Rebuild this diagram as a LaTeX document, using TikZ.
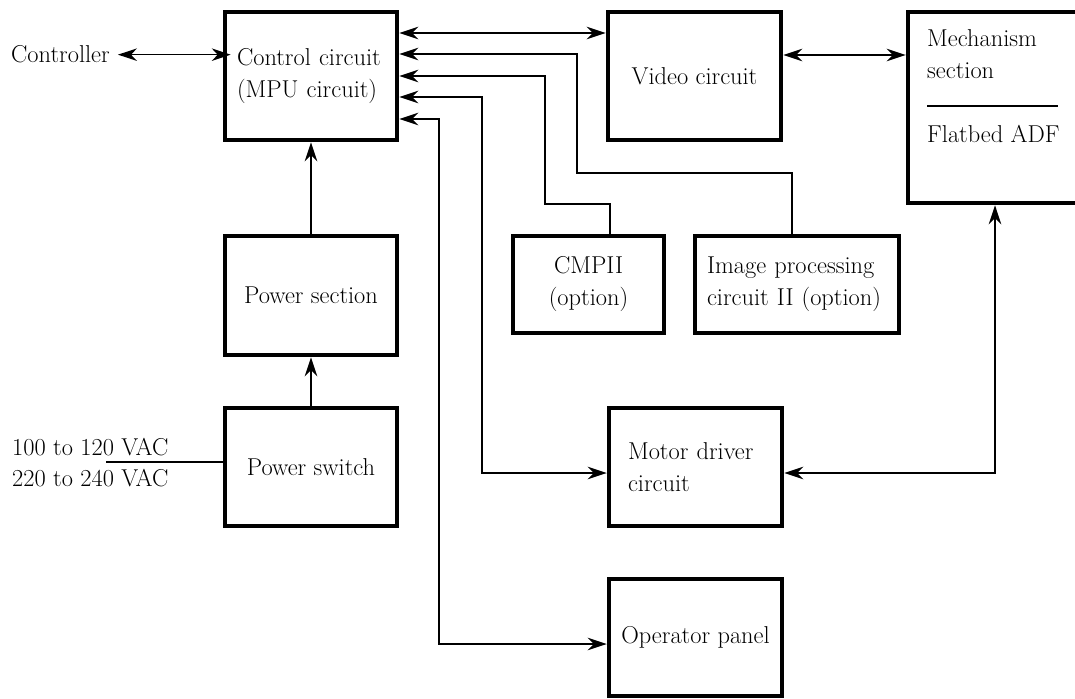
\documentclass[tikz,border=0pt]{standalone}
\usepackage{fontspec}
\usetikzlibrary{arrows.meta}
\begin{document}
\begin{tikzpicture}[x=1pt,y=-1pt,
  every node/.style={font=\fontsize{24.4}{32}\selectfont},
  blk/.style={draw,line width=4.5pt,rectangle,inner sep=0pt},
  lbl/.style={anchor=base west,inner sep=0pt},
  conn/.style={line width=1.4pt},
  >={Stealth[length=19pt,width=12.5pt,inset=6pt]}]
\useasboundingbox (0,0) rectangle (1075,698);
% blocks
\node[blk,minimum width=172pt,minimum height=128pt,text width=148pt,align=left] (ctrl) at (311,76) {Control circuit\\(MPU circuit)};
\node[blk,minimum width=172pt,minimum height=119pt] (power) at (311,295.5) {Power section};
\node[blk,minimum width=172pt,minimum height=118pt] (switch) at (311,467) {Power switch};
\node[blk,minimum width=173pt,minimum height=128pt] (video) at (694.5,76) {Video circuit};
\node[blk,minimum width=170pt,minimum height=191pt] (mech) at (993,107.5) {};
\node[blk,minimum width=151pt,minimum height=97pt,align=center] (cmp) at (588.5,284.5) {CMPII\\(option)};
\node[blk,minimum width=204pt,minimum height=97pt,text width=180pt,align=left] (img) at (797,284.5) {Image processing\\circuit II (option)};
\node[blk,minimum width=173pt,minimum height=118pt,text width=135pt,align=left] (motor) at (695.5,467) {Motor driver\\circuit};
\node[blk,minimum width=173pt,minimum height=117pt] (oper) at (695.5,637.5) {Operator panel};
% texts
\node[lbl] (mecha) at (927,47) {Mechanism};
\node[lbl] (mechb) at (927,79) {section};
\node[lbl] (mechc) at (927,142) {Flatbed ADF};
\coordinate (sepL) at (927,106);
\coordinate (sepR) at (1058,106);
\draw[conn] (sepL) -- (sepR);
\node[lbl] (contr) at (11,63) {Controller};
\node[lbl] (vac1) at (12,455) {100 to 120 VAC};
\node[lbl] (vac2) at (12,486) {220 to 240 VAC};
% helper coordinates
\coordinate (c2) at (500,33);
\coordinate (c3a) at (792,173);
\coordinate (c3b) at (577,173);
\coordinate (c3c) at (577,54);
\coordinate (c4a) at (610,204);
\coordinate (c4b) at (545,204);
\coordinate (c4c) at (545,76);
\coordinate (c5a) at (482,97);
\coordinate (c5b) at (482,473);
\coordinate (c6a) at (439,119);
\coordinate (c6b) at (439,644);
\coordinate (c10) at (845,55);
\coordinate (c11) at (995,473);
\coordinate (vacend) at (106,462);
% connectors
\draw[conn,<->] ([xshift=8pt]contr.east) -- ([xshift=8pt]contr.east -| ctrl.west);
\draw[conn,<->] (c2 -| ctrl.east) -- (c2 -| video.west);
\draw[conn,->] (img.north -| c3a) -- (c3a) -- (c3b) -- (c3c) -- (c3c -| ctrl.east);
\draw[conn,->] (cmp.north -| c4a) -- (c4a) -- (c4b) -- (c4c) -- (c4c -| ctrl.east);
\draw[conn,<->] (c5a -| ctrl.east) -- (c5a) -- (c5b) -- (c5b -| motor.west);
\draw[conn,<->] (c6a -| ctrl.east) -- (c6a) -- (c6b) -- (c6b -| oper.west);
\draw[conn,->] (power.north) -- (ctrl.south);
\draw[conn,->] (switch.north) -- (power.south);
\draw[conn] (vacend) -- (vacend -| switch.west);
\draw[conn,<->] (c10 -| video.east) -- (c10 -| mech.west);
\draw[conn,<->] (c11 -| motor.east) -- (c11) -- (c11 |- mech.south);
\end{tikzpicture}
\end{document}
